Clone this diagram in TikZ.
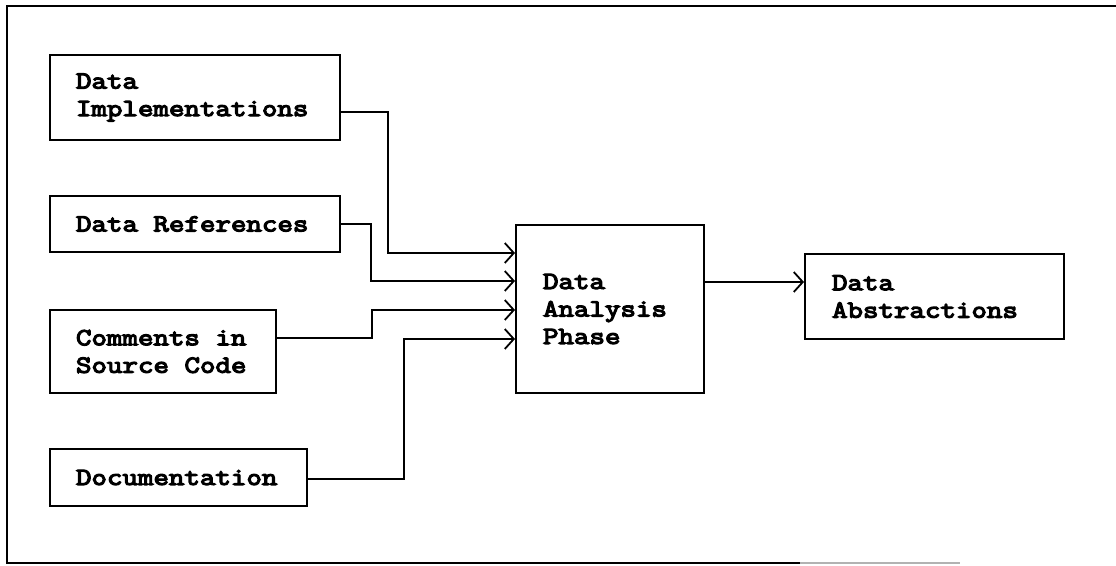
\documentclass[tikz,border=0pt]{standalone}
\usepackage{fontspec}
\newfontfamily\courfont[FakeStretch=1.228, FakeBold=5]{Latin Modern Mono}
\newcommand\ws{\hskip\fontdimen2\font\relax}
\usetikzlibrary{arrows.meta}
\tikzset{
  box/.style={draw, line width=2pt, rectangle, inner sep=0pt, align=left,
    font=\courfont\fontsize{24.5}{27.5}\selectfont},
  conn/.style={line width=1.8pt, -{Straight Barb[length=9pt,width=20pt,line width=1.8pt]}},
  frame/.style={line width=2.6pt}
}
\begin{document}
\begin{tikzpicture}[x=1pt,y=-1pt]
\useasboundingbox (0,0) rectangle (1116,565);
% frame
\draw[frame] (1116,6) -- (7,6) -- (7,563) -- (800,563);
\draw[line width=1.5pt, black!30] (800,563) -- (960,563);
% boxes
\node[box, minimum width=290pt, minimum height=85pt, text width=238pt] (b1) at (195,97.5) {Data\\Implementations};
\node[box, minimum width=290pt, minimum height=56pt, text width=238pt] (b2) at (195,224) {Data\ws References};
\node[box, minimum width=226pt, minimum height=83pt, text width=174pt] (b3) at (163,351.5) {Comments\ws in\\Source\ws Code};
\node[box, minimum width=257pt, minimum height=57pt, text width=205pt] (b4) at (178.5,477.5) {Documentation};
\node[box, minimum width=188pt, minimum height=168pt, text width=134pt] (b5) at (610,309) {Data\\Analysis\\Phase};
\node[box, minimum width=259pt, minimum height=85pt, text width=205pt] (b6) at (934.5,296.5) {Data\\Abstractions};
% connectors
\draw[conn] ([yshift=-14.5pt]b1.east) -- ++(47,0) |- ([yshift=56pt]b5.west);
\draw[conn] (b2.east) -- ++(30,0) |- ([yshift=28pt]b5.west);
\draw[conn] ([yshift=13.5pt]b3.east) -- ++(95,0) |- ([yshift=-1pt]b5.west);
\draw[conn] ([yshift=-1.5pt]b4.east) -- ++(96,0) |- ([yshift=-30pt]b5.west);
\draw[conn] ([yshift=27pt]b5.east) -- ([yshift=27pt]b5.east -| b6.west);
\end{tikzpicture}
\end{document}
